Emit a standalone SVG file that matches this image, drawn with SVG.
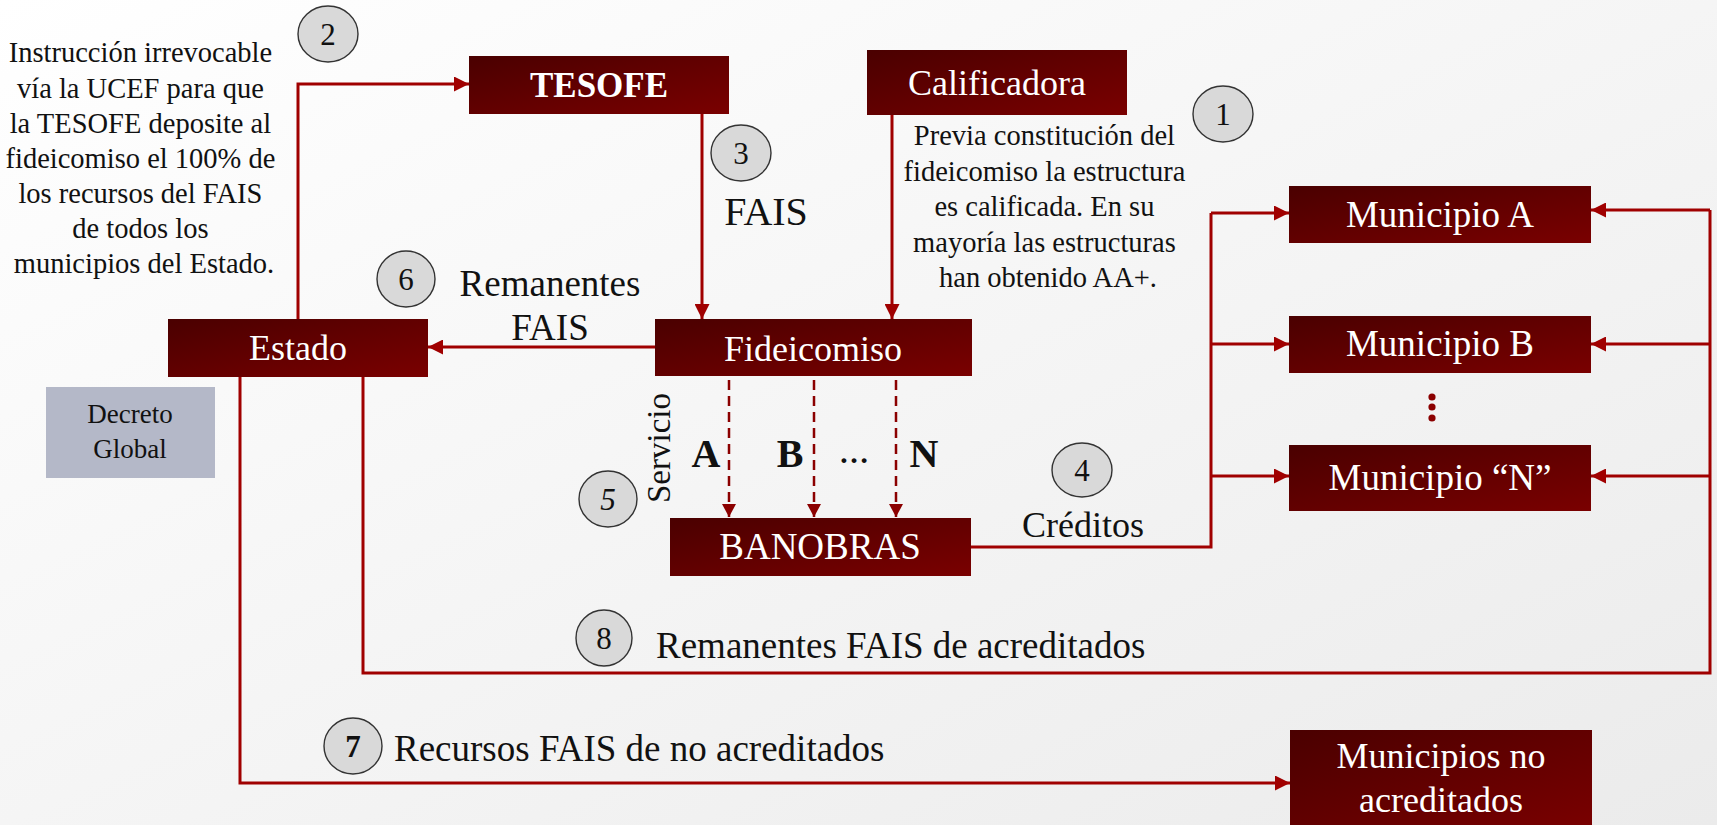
<svg xmlns="http://www.w3.org/2000/svg" width="1717" height="825" viewBox="0 0 1717 825">
  <defs>
    <linearGradient id="bg" x1="0" y1="0" x2="1" y2="1">
      <stop offset="0" stop-color="#ffffff"/>
      <stop offset="1" stop-color="#ebebeb"/>
    </linearGradient>
    <linearGradient id="boxfill" x1="0" y1="0" x2="1" y2="1">
      <stop offset="0" stop-color="#4a0000"/>
      <stop offset="1" stop-color="#7a0000"/>
    </linearGradient>
    <marker id="arr" markerUnits="userSpaceOnUse" markerWidth="16" markerHeight="15" refX="15" refY="7.5" orient="auto">
      <path d="M0,0 L15,7.5 L0,15 z" fill="#a00000"/>
    </marker>
    <marker id="arrd" markerUnits="userSpaceOnUse" markerWidth="14" markerHeight="14" refX="13" refY="7" orient="auto">
      <path d="M0,0 L13,7 L0,14 z" fill="#8b0000"/>
    </marker>
    <style>
      text { font-family: 'Liberation Serif', 'DejaVu Serif', serif; }
      .box { fill: url(#boxfill); }
      .bt { font-size: 36px; fill: #ffffff; text-anchor: middle; }
      .t { fill: #111111; text-anchor: middle; }
      .note { font-size: 28.5px; }
      .lbl { font-size: 37px; }
      .abc { font-size: 40px; font-weight: bold; }
      .num ellipse { fill: #d9d9d9; stroke: #333333; stroke-width: 1.4; }
      .num text { font-size: 31px; fill: #111111; text-anchor: middle; }
      .c { fill: none; stroke: #a00000; stroke-width: 3; }
      .d { fill: none; stroke: #8b0000; stroke-width: 2.5; stroke-dasharray: 10 6; }
    </style>
  </defs>

  <rect x="0" y="0" width="1717" height="825" fill="url(#bg)"/>

  <g id="connectors">
    <path class="c" d="M298,319 L298,84 L469,84" marker-end="url(#arr)"/>
    <path class="c" d="M702,114 L702,319" marker-end="url(#arr)"/>
    <path class="c" d="M892,115 L892,319" marker-end="url(#arr)"/>
    <path class="c" d="M655,347 L428,347" marker-end="url(#arr)"/>
    <path class="d" d="M729,380 L729,517" marker-end="url(#arrd)"/>
    <path class="d" d="M814,380 L814,517" marker-end="url(#arrd)"/>
    <path class="d" d="M896,380 L896,517" marker-end="url(#arrd)"/>
    <path class="c" d="M971,547 L1211,547 L1211,213"/>
    <path class="c" d="M1211,213 L1289,213" marker-end="url(#arr)"/>
    <path class="c" d="M1211,344 L1289,344" marker-end="url(#arr)"/>
    <path class="c" d="M1211,476 L1289,476" marker-end="url(#arr)"/>
    <path class="c" d="M363,377 L363,673 L1710,673 L1710,210"/>
    <path class="c" d="M1710,210 L1591,210" marker-end="url(#arr)"/>
    <path class="c" d="M1710,344 L1591,344" marker-end="url(#arr)"/>
    <path class="c" d="M1710,476 L1591,476" marker-end="url(#arr)"/>
    <path class="c" d="M240,377 L240,783 L1290,783" marker-end="url(#arr)"/>
  </g>

  <g id="node-tesofe">
    <rect class="box" x="469" y="56" width="260" height="58"/>
    <text class="bt" x="599" y="97" style="font-weight:bold;font-size:35px">TESOFE</text>
  </g>
  <g id="node-calificadora">
    <rect class="box" x="867" y="50" width="260" height="65"/>
    <text class="bt" x="997" y="95">Calificadora</text>
  </g>
  <g id="node-estado">
    <rect class="box" x="168" y="319" width="260" height="58"/>
    <text class="bt" x="298" y="360">Estado</text>
  </g>
  <g id="node-fideicomiso">
    <rect class="box" x="655" y="319" width="317" height="57"/>
    <text class="bt" x="813" y="361">Fideicomiso</text>
  </g>
  <g id="node-banobras">
    <rect class="box" x="670" y="518" width="301" height="58"/>
    <text class="bt" x="820" y="559" style="font-size:37px">BANOBRAS</text>
  </g>
  <g id="node-municipio-a">
    <rect class="box" x="1289" y="186" width="302" height="57"/>
    <text class="bt" x="1440" y="227" style="font-size:37px">Municipio A</text>
  </g>
  <g id="node-municipio-b">
    <rect class="box" x="1289" y="316" width="302" height="57"/>
    <text class="bt" x="1440" y="356" style="font-size:37px">Municipio B</text>
  </g>
  <g id="node-municipio-n">
    <rect class="box" x="1289" y="445" width="302" height="66"/>
    <text class="bt" x="1440" y="490" style="font-size:37px">Municipio “N”</text>
  </g>
  <g id="node-municipios-no">
    <rect class="box" x="1290" y="730" width="302" height="100"/>
    <text class="bt" x="1441" y="768">Municipios no</text>
    <text class="bt" x="1441" y="812">acreditados</text>
  </g>
  <g id="node-decreto">
    <rect x="46" y="387" width="169" height="91" fill="#b4b8c8"/>
    <text class="t" x="130" y="423" style="font-size:27px">Decreto</text>
    <text class="t" x="130" y="458" style="font-size:27px">Global</text>
  </g>

  <g id="dots" fill="#8b0000">
    <circle cx="1432" cy="397" r="3.6"/>
    <circle cx="1432" cy="407" r="3.6"/>
    <circle cx="1432" cy="418" r="3.6"/>
  </g>

  <g id="notes">
    <text class="t note" x="144">
      <tspan x="144" y="62">Instrucción irrevocable</tspan>
      <tspan x="144" y="98">vía la UCEF para que</tspan>
      <tspan x="144" y="133">la TESOFE deposite al</tspan>
      <tspan x="144" y="168">fideicomiso el 100% de</tspan>
      <tspan x="144" y="203">los recursos del FAIS</tspan>
      <tspan x="144" y="238">de todos los</tspan>
      <tspan x="144" y="273">municipios del Estado.</tspan>
    </text>
    <text class="t note" x="1048">
      <tspan x="1048" y="145">Previa constitución del</tspan>
      <tspan x="1048" y="181">fideicomiso la estructura</tspan>
      <tspan x="1048" y="216">es calificada. En su</tspan>
      <tspan x="1048" y="252">mayoría las estructuras</tspan>
      <tspan x="1048" y="287">han obtenido AA+.</tspan>
    </text>
  </g>

  <g id="labels">
    <text class="t" x="766" y="225" style="font-size:40px">FAIS</text>
    <text class="t lbl" x="550" y="296">Remanentes</text>
    <text class="t lbl" x="550" y="340">FAIS</text>
    <text class="t" x="0" y="0" style="font-size:33px" transform="translate(670,448) rotate(-90)">Servicio</text>
    <text class="t abc" x="706" y="467">A</text>
    <text class="t abc" x="790" y="467">B</text>
    <text class="t abc" x="854" y="463" style="font-size:30px">…</text>
    <text class="t abc" x="924" y="467">N</text>
    <text class="t" x="1083" y="537" style="font-size:36px">Créditos</text>
    <text class="t lbl" x="656" y="658" style="text-anchor:start">Remanentes FAIS de acreditados</text>
    <text class="t lbl" x="394" y="761" style="text-anchor:start">Recursos FAIS de no acreditados</text>
  </g>

  <g id="steps">
    <g class="num" id="step-1"><ellipse cx="1223" cy="114" rx="30" ry="28"/><text x="1223" y="125">1</text></g>
    <g class="num" id="step-2"><ellipse cx="328" cy="34" rx="30" ry="28"/><text x="328" y="45">2</text></g>
    <g class="num" id="step-3"><ellipse cx="741" cy="153" rx="30" ry="28"/><text x="741" y="164">3</text></g>
    <g class="num" id="step-4"><ellipse cx="1082" cy="470" rx="30" ry="27"/><text x="1082" y="481">4</text></g>
    <g class="num" id="step-5"><ellipse cx="608" cy="499" rx="29" ry="28"/><text x="608" y="510" font-style="italic">5</text></g>
    <g class="num" id="step-6"><ellipse cx="406" cy="279" rx="29" ry="28"/><text x="406" y="290">6</text></g>
    <g class="num" id="step-7"><ellipse cx="353" cy="746" rx="29" ry="28"/><text x="353" y="757" font-weight="bold">7</text></g>
    <g class="num" id="step-8"><ellipse cx="604" cy="638" rx="28" ry="28"/><text x="604" y="649">8</text></g>
  </g>
</svg>
